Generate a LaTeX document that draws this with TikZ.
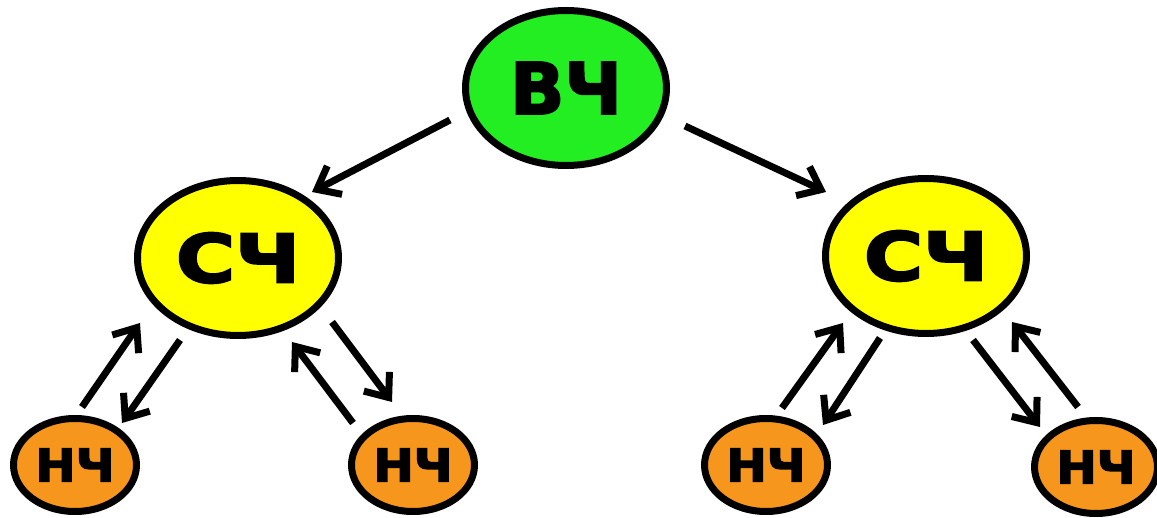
\documentclass[tikz,border=0pt]{standalone}
\usepackage{fontspec}
\usepackage{graphicx}
\setmainfont{DejaVu Sans}
\newfontfamily\heavy[FakeBold=3]{DejaVu Sans Bold}
\usetikzlibrary{shapes.geometric,arrows.meta,calc}
\definecolor{vcgreen}{HTML}{22EE22}
\definecolor{scyellow}{HTML}{FFFF00}
\definecolor{ncorange}{HTML}{F7961D}
\begin{document}
\begin{tikzpicture}[x=1pt,y=1pt,
  bubble/.style={ellipse,draw=black,line width=7pt,inner sep=0pt},
  big/.style={bubble,minimum width=201pt,minimum height=155pt},
  small/.style={bubble,minimum width=123pt,minimum height=93pt},
  arr/.style={line width=7pt,-{Straight Barb[length=20pt,width=32pt]}}]
\useasboundingbox (0,0) rectangle (1157,-518);
\node[big,fill=vcgreen] (vc) at (566,-88) {\fontsize{71}{71}\heavy ВЧ};
\node[big,fill=scyellow] (sc1) at (238,-258) {\fontsize{67}{67}\heavy\scalebox{1.2}[1]{СЧ}};
\node[big,fill=scyellow] (sc2) at (926,-256) {\fontsize{67}{67}\heavy\scalebox{1.2}[1]{СЧ}};
\node[small,fill=ncorange] (nc1) at (75,-465) {\fontsize{45}{45}\heavy\scalebox{1.07}[1]{НЧ}};
\node[small,fill=ncorange] (nc2) at (413,-465) {\fontsize{45}{45}\heavy\scalebox{1.07}[1]{НЧ}};
\node[small,fill=ncorange] (nc3) at (766,-465) {\fontsize{45}{45}\heavy\scalebox{1.07}[1]{НЧ}};
\node[small,fill=ncorange] (nc4) at (1096,-467) {\fontsize{45}{45}\heavy\scalebox{1.07}[1]{НЧ}};
\draw[arr] ($(vc)+(-116,-32)$) -- ($(sc1)+(74,66)$);
\draw[arr] ($(vc)+(119,-38)$) -- ($(sc2)+(-100,64)$);
\draw[arr] ($(nc1)+(7,58)$) -- ($(sc1)+(-98,-65)$);
\draw[arr] ($(sc1)+(-58,-82)$) -- ($(nc1)+(47,42)$);
\draw[arr] ($(nc2)+(-60,42)$) -- ($(sc1)+(54,-84)$);
\draw[arr] ($(sc1)+(94,-64)$) -- ($(nc2)+(-21,63)$);
\draw[arr] ($(nc3)+(16,57)$) -- ($(sc2)+(-83,-67)$);
\draw[arr] ($(sc2)+(-46,-82)$) -- ($(nc3)+(57,40)$);
\draw[arr] ($(sc2)+(47,-84)$) -- ($(nc4)+(-56,40)$);
\draw[arr] ($(nc4)+(-18,60)$) -- ($(sc2)+(86,-66)$);
\end{tikzpicture}
\end{document}
